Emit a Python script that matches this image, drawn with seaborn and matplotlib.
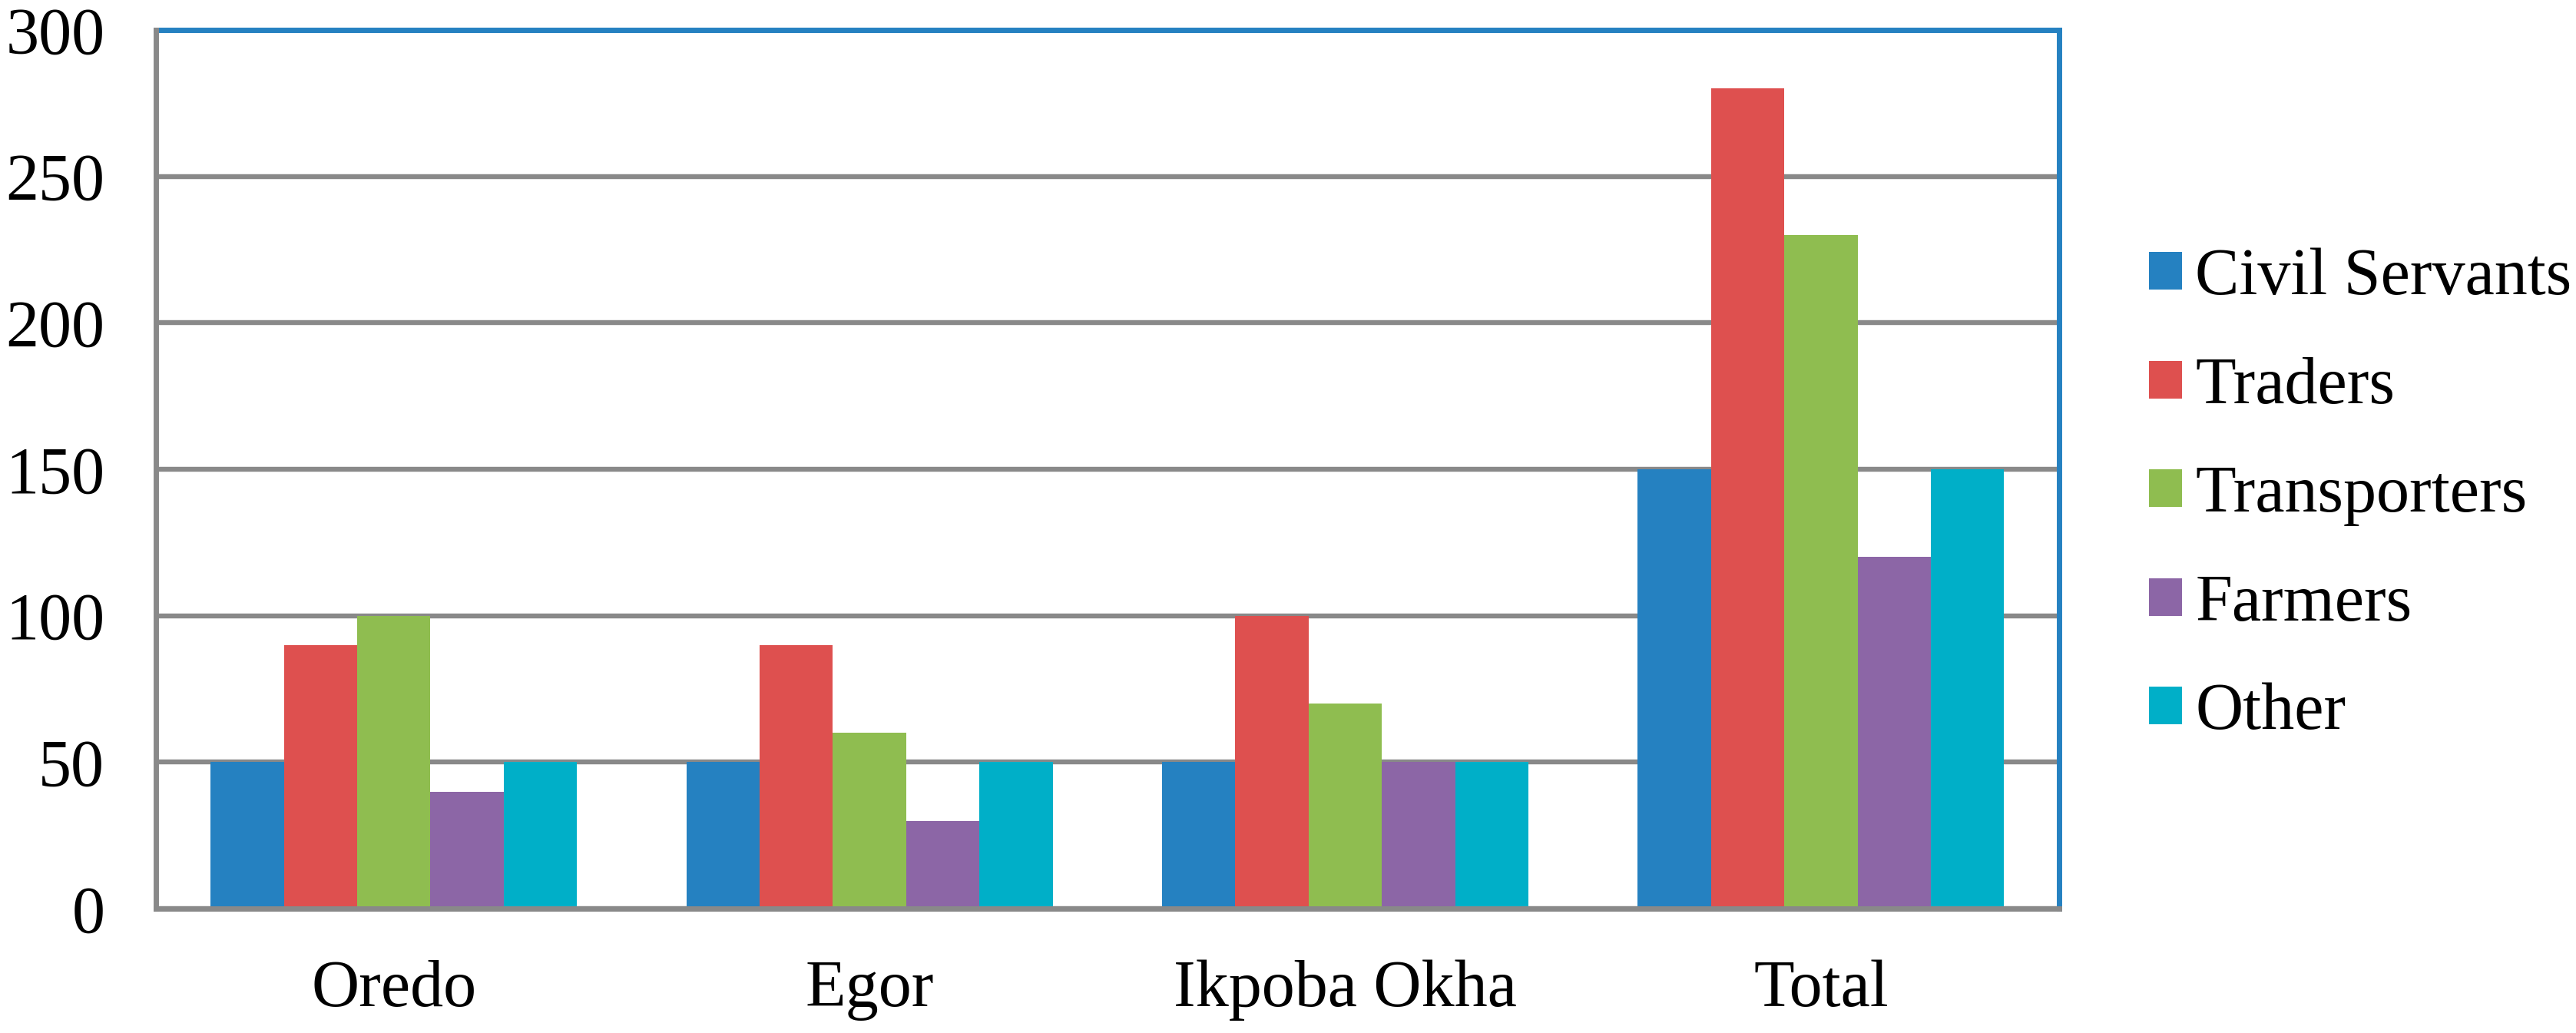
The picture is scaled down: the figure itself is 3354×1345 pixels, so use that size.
import pandas as pd
import matplotlib.pyplot as plt
import seaborn as sns

# Chart data
areas = ['Oredo', 'Egor', 'Ikpoba Okha', 'Total']
groups = ['Civil Servants', 'Traders', 'Transporters', 'Farmers', 'Other']
civil_servants = [50, 50, 50, 150]
traders = [90, 90, 100, 280]
transporters = [100, 60, 70, 230]
farmers = [40, 30, 50, 120]
other = [50, 50, 50, 150]
y_ticks = [0, 50, 100, 150, 200, 250, 300]

colors = ['#2581C1', '#DE504F', '#8FBD50', '#8C66A6', '#00AFC8']

# Build a long table for seaborn
values = [civil_servants, traders, transporters, farmers, other]
rows = []
for g, vals in zip(groups, values):
    for a, v in zip(areas, vals):
        rows.append({'Area': a, 'Group': g, 'Count': v})
df = pd.DataFrame(rows)

sns.set_style('white')
plt.rcParams['font.family'] = ['Liberation Serif', 'DejaVu Serif']
plt.rcParams['text.color'] = 'black'

fig = plt.figure(figsize=(16.775, 6.725), dpi=200)
ax = fig.add_axes([0.0605, 0.1204, 0.7385, 0.8506])

sns.barplot(data=df, x='Area', y='Count', hue='Group', hue_order=groups,
            order=areas, palette=colors, saturation=1, width=0.77,
            linewidth=0, ax=ax, zorder=3)

ax.set_ylim(0, 300)
ax.set_xlim(-0.5, 3.5)
ax.set_yticks(y_ticks)
ax.set_xlabel('')
ax.set_ylabel('')
ax.tick_params(axis='both', length=0, labelsize=31, colors='black')
ax.tick_params(axis='y', pad=24)
ax.tick_params(axis='x', pad=24)

# Gridlines and frame
ax.grid(axis='y', color='#898989', linewidth=2.3, zorder=0)
ax.grid(axis='x', visible=False)
ax.set_axisbelow(True)
for side in ['top', 'right']:
    ax.spines[side].set_color('#2581C1')
    ax.spines[side].set_linewidth(2.5)
for side in ['left', 'bottom']:
    ax.spines[side].set_color('#898989')
    ax.spines[side].set_linewidth(2.5)
    ax.spines[side].set_zorder(4)

# Legend on the right
handles, labels = ax.get_legend_handles_labels()
ax.legend(handles, labels, loc='center left', bbox_to_anchor=(0.834, 0.52),
          bbox_transform=fig.transFigure, frameon=False, fontsize=31,
          labelcolor='black', handlelength=0.5, handleheight=0.5,
          handletextpad=0.2, labelspacing=0.72, borderpad=0, borderaxespad=0)

plt.savefig('out.png', dpi=200)
